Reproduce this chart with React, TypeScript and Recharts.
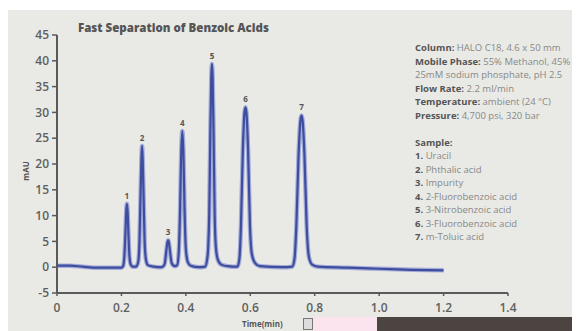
import React from 'react';
import { LineChart, Line, XAxis, YAxis, ReferenceDot } from 'recharts';

// retention time (min) and detector signal (mAU)
const times = [
  0, 0.04, 0.08, 0.12, 0.2, 0.205, 0.209, 0.212, 0.215, 0.217, 0.219, 0.222, 0.225, 0.229, 0.235,
  0.245, 0.252, 0.256, 0.259, 0.262, 0.264, 0.266, 0.269, 0.272, 0.276, 0.282, 0.3,
  0.325, 0.334, 0.339, 0.343, 0.345, 0.347, 0.351, 0.356, 0.365,
  0.373, 0.378, 0.382, 0.3855, 0.389, 0.3925, 0.396, 0.4, 0.406, 0.415, 0.44,
  0.46, 0.466, 0.4695, 0.4725, 0.476, 0.479, 0.481, 0.483, 0.486, 0.4895, 0.493, 0.499, 0.51, 0.53,
  0.56, 0.566, 0.571, 0.577, 0.582, 0.585, 0.588, 0.593, 0.599, 0.605, 0.615, 0.63,
  0.7, 0.73, 0.737, 0.743, 0.75, 0.756, 0.759, 0.762, 0.768, 0.775, 0.782, 0.792, 0.81,
  0.9, 1.0, 1.1, 1.2,
];
const signal = [
  0.3, 0.3, 0.1, -0.1, -0.1, 0.2, 2, 6, 11, 12.3, 11, 6, 2, 0.5, 0.1,
  0.1, 1, 5, 13, 21, 23.5, 21, 13, 5, 1.5, 0.4, 0.1,
  0, 0.6, 3, 4.9, 5.2, 4.9, 3, 0.8, 0.2,
  0.4, 3, 11, 22, 26.4, 22, 11, 3.5, 1, 0.3, 0,
  0.1, 1.5, 4, 10, 26, 37, 39.4, 37, 26, 10, 4, 1.5, 0.5, 0.2,
  0.1, 1.5, 8, 23, 30, 31, 30, 23, 8, 2.5, 0.8, 0.2,
  0, 0.1, 1.5, 8, 22, 28.6, 29.4, 28.6, 22, 8, 2, 0.5, 0.1,
  -0.1, -0.3, -0.5, -0.6,
];

const peakTimes = [0.217, 0.264, 0.345, 0.389, 0.481, 0.585, 0.759];
const peakHeights = [12.3, 23.5, 5.2, 26.4, 39.4, 31, 29.4];
const peakLabels = ['1', '2', '3', '4', '5', '6', '7'];

const xTicks = [0, 0.2, 0.4, 0.6, 0.8, 1.0, 1.2, 1.4];
const yTicks = [-5, 0, 5, 10, 15, 20, 25, 30, 35, 40, 45];

const conditions: [string, string][] = [
  ['Column:', ' HALO C18, 4.6 x 50 mm'],
  ['Mobile Phase:', ' 55% Methanol, 45%'],
  ['', '25mM sodium phosphate, pH 2.5'],
  ['Flow Rate:', ' 2.2 ml/min'],
  ['Temperature:', ' ambient (24 °C)'],
  ['Pressure:', ' 4,700 psi, 320 bar'],
];
const sampleNames = [
  'Uracil',
  'Phthalic acid',
  'Impurity',
  '2-Fluorobenzoic acid',
  '3-Nitrobenzoic acid',
  '3-Fluorobenzoic acid',
  'm-Toluic acid',
];

const data = times.map((t, i) => ({ t, v: signal[i] }));

const FONT = '"Open Sans", sans-serif';
const BG = '#e9eae5';
const AXIS = '#5a5a5a';
const tickFont = { fill: '#5f5f5f', fontSize: 12, fontWeight: 600, fontFamily: FONT };

export default function App() {
  const noteStyle: React.CSSProperties = { whiteSpace: 'nowrap', height: 13.5 };
  return (
    <div style={{ position: 'relative', width: 572, height: 323, fontFamily: FONT }}>
      <div style={{ position: 'absolute', left: 0, top: 2, width: 572, height: 321, background: BG }} />
      <div style={{ position: 'absolute', left: 0, top: 2 }}>
        <LineChart width={572} height={321} data={data} margin={{ top: 25, right: 72, left: 9, bottom: 18 }}>
          <XAxis
            dataKey="t"
            type="number"
            domain={[0, 1.4]}
            ticks={xTicks}
            tickFormatter={(v: number) => (v === 0 ? '0' : v.toFixed(1))}
            height={20}
            stroke={AXIS}
            strokeWidth={2}
            tickSize={3}
            tickMargin={7}
            tick={tickFont}
            tickLine={{ stroke: AXIS, strokeWidth: 1.5 }}
          />
          <YAxis
            type="number"
            domain={[-5, 45]}
            ticks={yTicks}
            width={40}
            stroke={AXIS}
            strokeWidth={2}
            tickSize={5}
            tickMargin={3}
            tick={tickFont}
            tickLine={{ stroke: AXIS, strokeWidth: 1.5 }}
          />
          <Line
            dataKey="v"
            type="monotone"
            stroke="#a4acd8"
            strokeWidth={4.5}
            dot={false}
            isAnimationActive={false}
          />
          <Line
            dataKey="v"
            type="monotone"
            stroke="#3e4d9e"
            strokeWidth={2.2}
            dot={false}
            isAnimationActive={false}
          />
          {peakTimes.map((t, i) => (
            <ReferenceDot
              key={i}
              x={t}
              y={peakHeights[i]}
              r={1}
              fill="none"
              stroke="none"
              label={{
                value: peakLabels[i],
                position: 'top',
                offset: 4,
                fill: '#555',
                fontSize: 8,
                fontWeight: 700,
                fontFamily: FONT,
              }}
            />
          ))}
        </LineChart>
      </div>
      <div
        style={{
          position: 'absolute',
          left: 70,
          top: 12,
          fontSize: 11.5,
          lineHeight: '16px',
          fontWeight: 800,
          color: '#555',
          whiteSpace: 'nowrap',
        }}
      >
        Fast Separation of Benzoic Acids
      </div>
      <div
        style={{
          position: 'absolute',
          left: 17,
          top: 163,
          transform: 'translate(-50%, -50%) rotate(-90deg)',
          fontSize: 8,
          fontWeight: 700,
          color: '#555',
        }}
      >
        mAU
      </div>
      <div style={{ position: 'absolute', left: 407, top: 33, fontSize: 9.5, lineHeight: '13.5px', color: '#888' }}>
        {conditions.map(([k, v], i) => (
          <div key={i} style={noteStyle}>
            <b style={{ color: '#555' }}>{k}</b>
            {v}
          </div>
        ))}
        <div style={noteStyle} />
        <div style={noteStyle}>
          <b style={{ color: '#555' }}>Sample:</b>
        </div>
        {sampleNames.map((s, i) => (
          <div key={s} style={noteStyle}>
            <b style={{ color: '#555' }}>{i + 1}.</b> {s}
          </div>
        ))}
      </div>
      <div
        style={{
          position: 'absolute',
          left: 234,
          top: 311,
          fontSize: 8,
          lineHeight: '10px',
          fontWeight: 700,
          color: '#555',
          whiteSpace: 'nowrap',
        }}
      >
        Time(min)
      </div>
      <div style={{ position: 'absolute', left: 295, top: 310, width: 8, height: 10, border: '1px solid #777', background: '#ddd' }} />
      <div style={{ position: 'absolute', left: 305, top: 309, width: 64, height: 14, background: '#fbe4ee' }} />
      <div style={{ position: 'absolute', left: 369, top: 309, width: 203, height: 14, background: '#4b4441' }} />
    </div>
  );
}
